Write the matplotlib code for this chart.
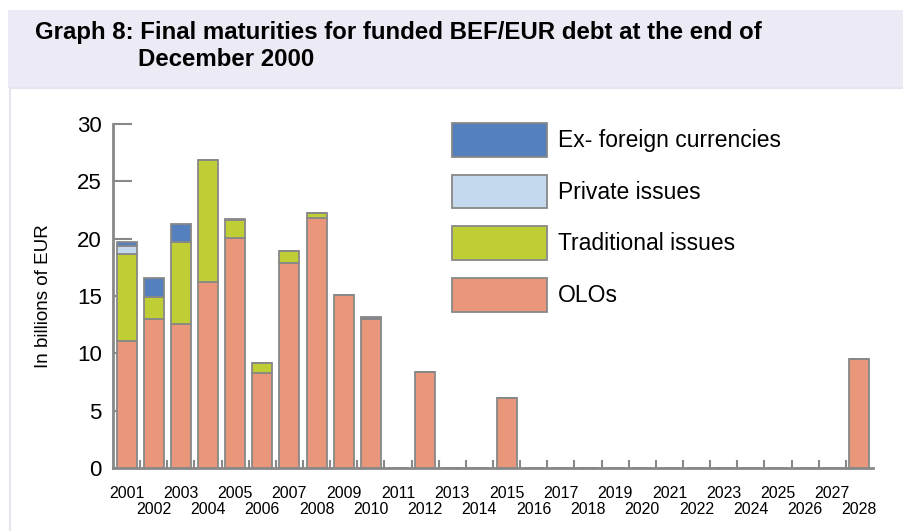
import matplotlib.pyplot as plt
from matplotlib.patches import Rectangle
from matplotlib.transforms import blended_transform_factory
import numpy as np

# Final maturities, billions of EUR
years = list(range(2001, 2029))
olos = [11.1, 13.0, 12.6, 16.2, 20.1, 8.3, 17.9, 21.8, 15.1, 13.0,
        0, 8.4, 0, 0, 6.1, 0, 0, 0, 0, 0, 0, 0, 0, 0, 0, 0, 0, 9.5]
traditional = [7.6, 1.9, 7.1, 10.7, 1.5, 0.9, 1.0, 0.4, 0, 0,
               0, 0, 0, 0, 0, 0, 0, 0, 0, 0, 0, 0, 0, 0, 0, 0, 0, 0]
private = [0.7, 0, 0, 0, 0, 0, 0, 0, 0, 0,
           0, 0, 0, 0, 0, 0, 0, 0, 0, 0, 0, 0, 0, 0, 0, 0, 0, 0]
ex_foreign = [0.35, 1.7, 1.6, 0, 0.15, 0, 0, 0, 0, 0.2,
              0, 0, 0, 0, 0, 0, 0, 0, 0, 0, 0, 0, 0, 0, 0, 0, 0, 0]

series = [
    ("OLOs", olos, "#E9967A"),
    ("Traditional issues", traditional, "#BFCE35"),
    ("Private issues", private, "#C5D9EE"),
    ("Ex- foreign currencies", ex_foreign, "#5580BE"),
]

plt.rcParams["font.family"] = ["Liberation Sans", "DejaVu Sans"]

fig = plt.figure(figsize=(9.04, 5.31), dpi=100)

# header band and the framed panel underneath
fig.patches.append(Rectangle((8 / 904, 1 - 88 / 531), 1, 78 / 531,
                             transform=fig.transFigure, facecolor="#ECEBF5",
                             edgecolor="none", zorder=-2))
fig.patches.append(Rectangle((10 / 904, -0.01), 1, 1 - 88 / 531 + 0.01,
                             transform=fig.transFigure, facecolor="white",
                             edgecolor="#E6E5EF", linewidth=1.5, zorder=-2))

fig.text(35 / 904, 1 - 32 / 531, "Graph 8: Final maturities for funded BEF/EUR debt at the end of",
         fontweight="bold", fontsize=17.3, va="center", ha="left")
fig.text(138 / 904, 1 - 60 / 531, "December 2000",
         fontweight="bold", fontsize=17.3, va="center", ha="left")

ax = fig.add_axes([113 / 904, 1 - 468 / 531, 760 / 904, 344 / 531])
ax.set_zorder(1)
ax.patch.set_alpha(0)
x = np.arange(len(years))
bottom = np.zeros(len(years))
handles = []
for label, vals, color in series:
    vals = np.array(vals, dtype=float)
    h = ax.bar(x, vals, width=0.74, bottom=bottom, color=color,
               edgecolor="#888888", linewidth=1.3, label=label, zorder=3)
    handles.append(h)
    bottom += vals

ax.set_xlim(-0.5, len(years) - 0.5)
ax.set_ylim(0, 30)
ax.set_yticks(range(0, 31, 5))
ax.tick_params(axis="y", direction="in", length=14, width=1.5, color="#888888",
               labelsize=16, pad=8)

# year labels in two staggered rows
ax.set_xticks([])
ax.set_xticks(np.arange(0.5, len(years) - 1, 1), minor=True)
ax.tick_params(axis="x", which="minor", direction="in", length=6, width=1.5,
               color="#888888")
trans = blended_transform_factory(ax.transData, ax.transAxes)
for i, yr in enumerate(years):
    row = 0 if i % 2 == 0 else 1
    ax.text(i, -25 / 344 - row * 17 / 344, str(yr), transform=trans,
            ha="center", va="center", fontsize=11.5)

for side in ("top", "right"):
    ax.spines[side].set_visible(False)
for side in ("left", "bottom"):
    ax.spines[side].set_color("#888888")
    ax.spines[side].set_linewidth(2)

ax.set_ylabel("In billions of EUR", fontsize=13.5, labelpad=18)

leg = ax.legend(handles=handles[::-1], loc="upper left",
                bbox_to_anchor=(339 / 760, 1.003), frameon=False, fontsize=16.5,
                handlelength=4.15, handleheight=1.9, labelspacing=0.77,
                handletextpad=0.48, borderaxespad=0, borderpad=0)

fig.savefig("out.png", dpi=100)
